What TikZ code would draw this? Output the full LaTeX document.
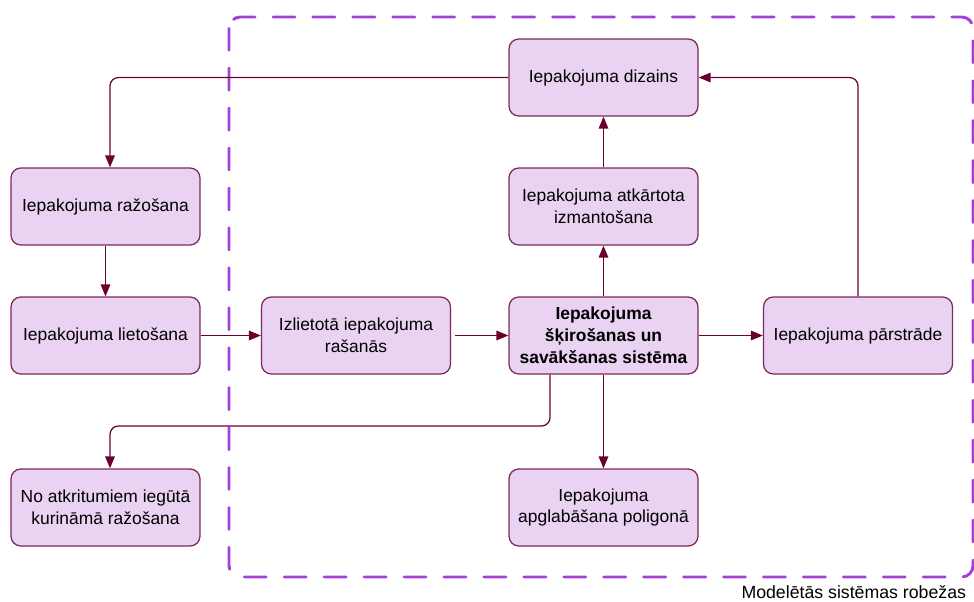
\documentclass[tikz,border=0pt]{standalone}
\usepackage{fontspec}
\setmainfont{Liberation Sans}
\usetikzlibrary{arrows.meta}
\definecolor{boxfill}{HTML}{E9D2F2}
\definecolor{boxline}{HTML}{7E2A55}
\definecolor{flow}{HTML}{6A0030}
\definecolor{bound}{HTML}{A440DA}
\begin{document}
\begin{tikzpicture}[x=0.025cm,y=-0.025cm,
  proc/.style={draw=boxline,line width=0.9pt,fill=boxfill,rounded corners=7pt,
    minimum width=189*0.025cm,minimum height=77*0.025cm,align=center,inner sep=2pt,
    font=\fontsize{12.4pt}{15.6pt}\selectfont},
  flowline/.style={draw=flow,line width=0.9pt,rounded corners=6pt,
    -{Triangle[length=8.5pt,width=6.8pt]}},
  boundary/.style={draw=bound,line width=2.1pt,line cap=round,
    dash pattern=on 15.6pt off 12.8pt,rounded corners=8pt}]
  \useasboundingbox (0,0) rectangle (974,601);

  % system boundary
  \draw[boundary] (229,17) rectangle (973,577);
  \node[anchor=base east,font=\fontsize{12.6pt}{15pt}\selectfont] (lbl) at (971,598) {Modelētās sistēmas robežas};

  % process boxes
  \node[proc] (diz) at (603.5,77.5) {Iepakojuma dizains};
  \node[proc] (reuse) at (603.5,206.5) {Iepakojuma atkārtota\\izmantošana};
  \node[proc] (prod) at (105.5,206.5) {Iepakojuma ražošana};
  \node[proc] (use) at (105.5,335.5) {Iepakojuma lietošana};
  \node[proc] (waste) at (356,335.5) {Izlietotā iepakojuma\\rašanās};
  \node[proc,font=\fontsize{12.4pt}{15.6pt}\selectfont\bfseries] (sys) at (603.5,335.5) {Iepakojuma\\šķirošanas un\\savākšanas sistēma};
  \node[proc] (recyc) at (858,335.5) {Iepakojuma pārstrāde};
  \node[proc] (fuel) at (105.5,507.5) {No atkritumiem iegūtā\\kurināmā ražošana};
  \node[proc] (land) at (603.5,507.5) {Iepakojuma\\apglabāšana poligonā};

  % flows
  \draw[flowline] (diz.west) -| (prod.north -| 110,0);
  \draw[flowline] (prod) -- (use);
  \draw[flowline] (use) -- (waste);
  \draw[flowline] ([xshift=3pt]waste.east) -- (sys.west);
  \draw[flowline] (sys) -- (recyc);
  \draw[flowline] (sys) -- (reuse);
  \draw[flowline] (reuse) -- (diz);
  \draw[flowline] (recyc.north) |- (diz.east);
  \draw[flowline] (sys.south -| 550,0) |- (330,426) -| (fuel.north -| 110,0);
  \draw[flowline] (sys) -- (land);
\end{tikzpicture}
\end{document}
